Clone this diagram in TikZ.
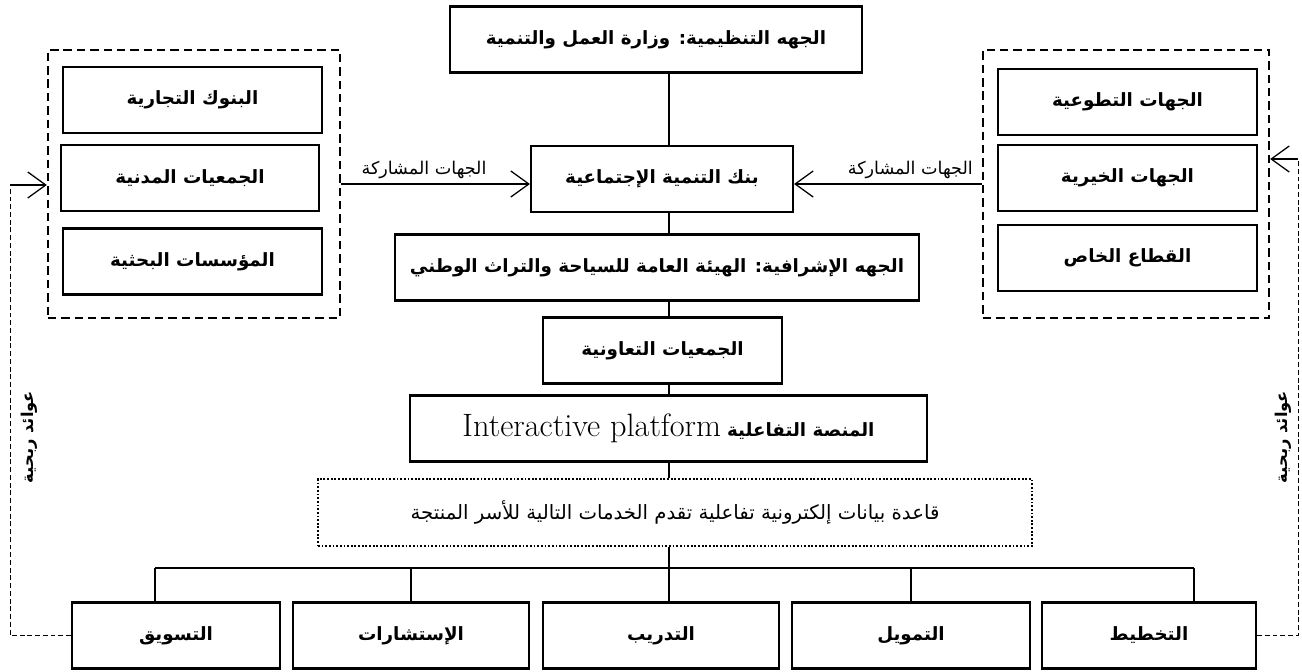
\documentclass[tikz,border=0pt]{standalone}
\usepackage{fontspec}
\usetikzlibrary{arrows.meta}
\newfontfamily\arabicfont[Script=Arabic]{DejaVu Sans}
\TeXXeTstate=1
\newcommand{\arb}[1]{{\arabicfont\bfseries\beginR #1\endR}}
\newcommand{\arr}[1]{{\arabicfont\beginR #1\endR}}

\begin{document}
\begin{tikzpicture}[x=0.025cm, y=-0.025cm,
    box/.style={rectangle, draw, line width=1.5pt, inner sep=2pt, minimum height=1.65cm, font=\fontsize{13}{16}\selectfont},
    group/.style={rectangle, draw, line width=1.6pt, dash pattern=on 6pt off 3.5pt, minimum height=6.7cm},
    dbbox/.style={rectangle, draw, line width=1.3pt, dash pattern=on 1.3pt off 1.3pt, minimum height=1.675cm, font=\fontsize{14}{17}\selectfont},
    link/.style={line width=0.9pt},
    feed/.style={line width=0.9pt, -{Straight Barb[length=4.5mm, width=6.5mm]}},
    ret/.style={line width=0.7pt, dash pattern=on 3.5pt off 2pt},
    side/.style={font=\fontsize{12.5}{15}\selectfont},
    gain/.style={rotate=90, font=\fontsize{11.6}{14}\selectfont}]
    \useasboundingbox (0,0) rectangle (1302,671);

    \coordinate (spine) at (669,0);
    \coordinate (busL) at (155,568);
    \coordinate (busR) at (1194,568);
    \coordinate (retL) at (10,185);
    \coordinate (retR) at (1298,159);

    % centre column
    \node at (656,39.5) [box, minimum width=10.3cm] (top) {\arb{الجهه التنظيمية: وزارة العمل والتنمية}};
    \node at (662,179) [box, minimum width=6.55cm] (bank) {\arb{بنك التنمية الإجتماعية}};
    \node at (657,267.5) [box, minimum width=13.1cm] (super) {\arb{الجهه الإشرافية: الهيئة العامة للسياحة والتراث الوطني}};
    \node at (662.5,350.5) [box, minimum width=5.975cm] (coop) {\arb{الجمعيات التعاونية}};
    \node at (668.5,428.5) [box, minimum width=12.925cm] (platform) {{\fontsize{23}{27}\selectfont Interactive platform} \arb{المنصة التفاعلية}};
    \node at (675,512.5) [dbbox, minimum width=17.85cm] (db) {\arr{قاعدة بيانات إلكترونية تفاعلية تقدم الخدمات التالية للأسر المنتجة}};

    % left group
    \node at (194,184) [group, minimum width=7.3cm] (lgroup) {};
    \node at (192.5,100) [box, minimum width=6.475cm] (banks) {\arb{البنوك التجارية}};
    \node at (190,178) [box, minimum width=6.45cm] (civil) {\arb{الجمعيات المدنية}};
    \node at (192.5,261.5) [box, minimum width=6.475cm] (research) {\arb{المؤسسات البحثية}};

    % right group
    \node at (1126,184) [group, minimum width=7.15cm] (rgroup) {};
    \node at (1127.5,102) [box, minimum width=6.475cm] (volunteer) {\arb{الجهات التطوعية}};
    \node at (1127.5,178) [box, minimum width=6.475cm] (charity) {\arb{الجهات الخيرية}};
    \node at (1127.5,258) [box, minimum width=6.475cm] (private) {\arb{القطاع الخاص}};

    % services
    \node at (176,635.5) [box, minimum width=5.2cm] (mkt) {\arb{التسويق}};
    \node at (411,635.5) [box, minimum width=5.9cm] (cons) {\arb{الإستشارات}};
    \node at (661,635.5) [box, minimum width=5.9cm] (train) {\arb{التدريب}};
    \node at (911,635.5) [box, minimum width=5.95cm] (fin) {\arb{التمويل}};
    \node at (1149,635.5) [box, minimum width=5.35cm] (plan) {\arb{التخطيط}};

    \node at (29,437) [gain] (gainL) {\arb{عوائد ربحية}};
    \node at (1283,437) [gain] (gainR) {\arb{عوائد ربحية}};

    \draw[link] (top.south -| spine) -- (bank.north -| spine);
    \draw[link] (bank.south -| spine) -- (super.north -| spine);
    \draw[link] (super.south -| spine) -- (coop.north -| spine);
    \draw[link] (coop.south -| spine) -- (platform.north -| spine);
    \draw[link] (platform.south -| spine) -- (db.north -| spine);
    \draw[link] (db.south -| spine) -- (train.north -| spine);
    \draw[link] (busL) -- (busR);
    \draw[link] (busL) -- (busL |- mkt.north);
    \draw[link] (cons.north |- busL) -- (cons.north);
    \draw[link] (fin.north |- busL) -- (fin.north);
    \draw[link] (busR) -- (busR |- plan.north);

    \draw[feed] (lgroup.east) -- (lgroup.east -| bank.west) node[pos=0.08, anchor=south west, side] {\arr{الجهات المشاركة}};
    \draw[feed] (rgroup.west) -- (rgroup.west -| bank.east) node[pos=0.02, anchor=south east, side] {\arr{الجهات المشاركة}};

    \draw[ret] (mkt.west) -- (mkt.west -| retL) -- (retL);
    \draw[feed] (retL) -- (retL -| lgroup.west);
    \draw[ret] (plan.east) -- (plan.east -| retR) -- (retR);
    \draw[feed] (retR) -- (retR -| rgroup.east);
\end{tikzpicture}
\end{document}
